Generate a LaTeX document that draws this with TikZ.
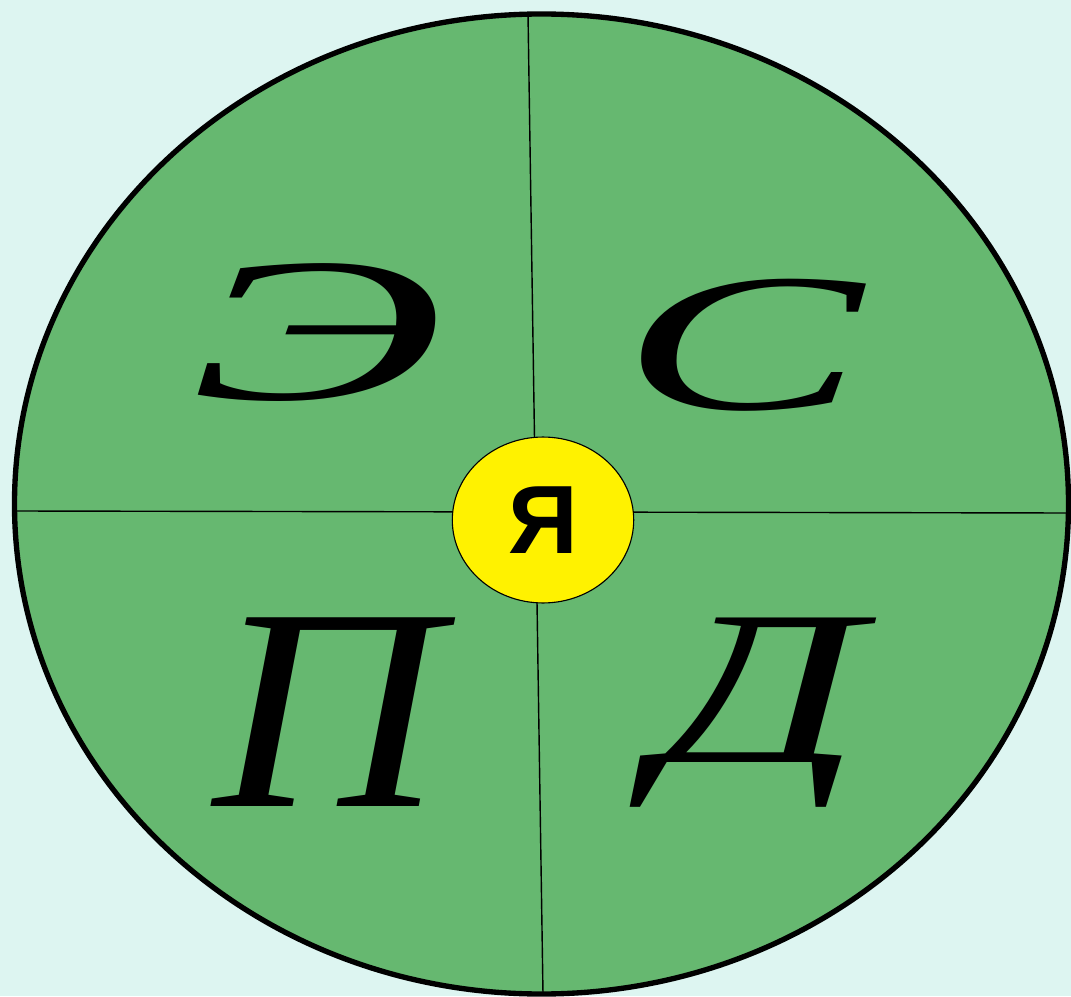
\documentclass[tikz,border=0pt]{standalone}
\usepackage{fontspec}
\usetikzlibrary{shapes.geometric}
\newfontfamily\timesit{Liberation Serif}
\newfontfamily\arialbf{Liberation Sans}
\definecolor{fon}{HTML}{DDF5F1}
\definecolor{pole}{HTML}{66B870}
\newcommand{\bukva}[2]{{\timesit\itshape\fontsize{#1}{#1}\selectfont #2}}

\begin{document}
\begin{tikzpicture}[x=0.025cm,y=0.025cm,bukva/.style={inner sep=0pt,transform shape}]
\fill[fon] (0,0) rectangle (1071,996);
\useasboundingbox (0,0) rectangle (1071,996);
\filldraw[fill=pole,line width=3.8pt] (541.5,492) ellipse [x radius=527,y radius=490];
\coordinate (w) at (14,485); \coordinate (e) at (1069,483);
\coordinate (n) at (528,982); \coordinate (s) at (543,2);
\draw[line width=1pt] (w)--(e);
\draw[line width=1pt] (n)--(s);
\node[ellipse,draw,fill=yellow,line width=.8pt,inner sep=0pt,minimum width=129pt,minimum height=118pt,font=\arialbf\bfseries\fontsize{69}{69}\selectfont] (ya) at (543,476) {Я};
\node[bukva,xscale=1.9] (e1) at (317,663) {\bukva{146}{Э}};
\node[bukva,xscale=1.84] (s1) at (742,651) {\bukva{140}{С}};
\node[bukva,xscale=1.09] (p1) at (327,284) {\bukva{205}{П}};
\node[bukva,xscale=1.47] (d1) at (759,283) {\bukva{157}{Д}};
\end{tikzpicture}
\end{document}
